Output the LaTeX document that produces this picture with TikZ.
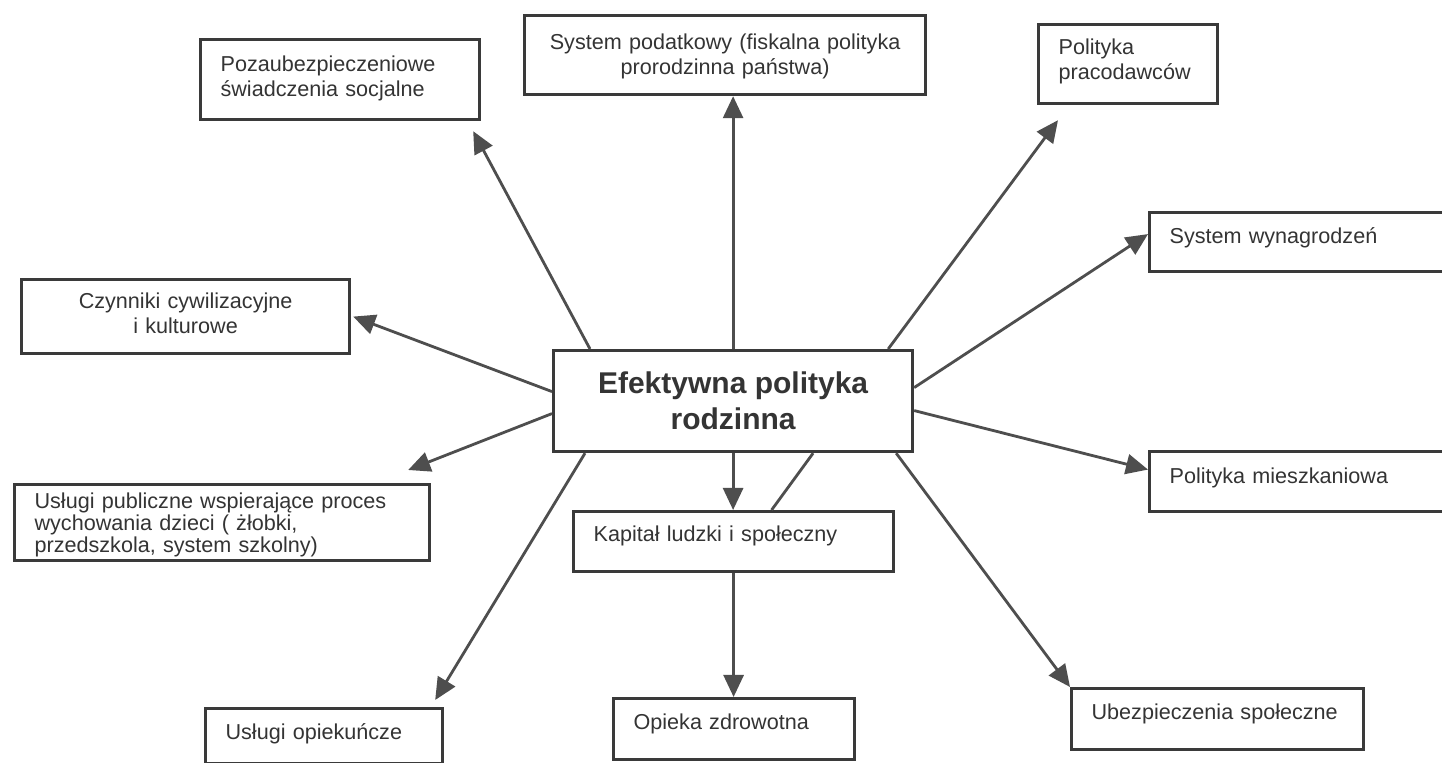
\documentclass[tikz,border=0pt]{standalone}
\usepackage{fontspec}
\setmainfont{Liberation Sans}
\usepackage{xcolor}
\usepackage{tikz}
\usetikzlibrary{arrows.meta}
\definecolor{ramka}{RGB}{58,58,58}
\definecolor{linia}{RGB}{78,78,78}
\definecolor{tekst}{RGB}{52,52,52}
\tikzset{
  pole/.style={draw=ramka,line width=1.6pt,anchor=north west,inner xsep=10pt,inner ysep=0pt,text=tekst,align=left,font=\fontsize{10.8}{12.5}\selectfont},
  strzalka/.style={draw=linia,line width=1.4pt,-{Triangle[length=11pt,width=10pt]}},
}

\begin{document}
\begin{tikzpicture}[x=0.5pt,y=-0.5pt]
\useasboundingbox (0,0) rectangle (1442,763);
\clip (0,0) rectangle (1442,763);
\fill[white] (0,0) rectangle (1442,763);
\node[draw=ramka,line width=1.6pt,anchor=north west,minimum width=179.5pt,minimum height=50.5pt,align=center,text=tekst,font=\fontsize{15}{18}\selectfont\bfseries] (rodzina) at (552,349)
{Efektywna polityka\\rodzinna};
\node[pole,text width=119.5pt,text height=16.2pt,text depth=23.8pt] (poza) at (199,38)
{Pozaubezpieczeniowe\\świadczenia socjalne};
\node[pole,align=center,text width=180.5pt,text height=17.2pt,text depth=22.3pt] (podatki) at (523,14)
{System podatkowy (fiskalna polityka\\prorodzinna państwa)};
\node[pole,text width=69.5pt,text height=15.2pt,text depth=24.3pt] (pracodawcy) at (1037,23)
{Polityka\\pracodawców};
\node[pole,text width=140pt,text height=15.7pt,text depth=13.8pt] (wynagrodzenia) at (1148,211)
{System wynagrodzeń};
\node[pole,align=center,text width=144pt,text height=14.7pt,text depth=22.3pt] (czynniki) at (20,278)
{Czynniki cywilizacyjne\\i kulturowe};
\node[pole,text width=140pt,text height=16.2pt,text depth=13.8pt] (mieszkania) at (1148,450)
{Polityka mieszkaniowa};
\node[pole,font=\fontsize{10.8}{11}\selectfont,text width=187.5pt,text height=12.2pt,text depth=25.8pt] (uslugi) at (13,483)
{Usługi publiczne wspierające proces\\wychowania dzieci ( żłobki,\\przedszkola, system szkolny)};
\node[pole,text width=140pt,text height=15.2pt,text depth=14.8pt] (kapital) at (572,510)
{Kapitał ludzki i społeczny};
\node[pole,text width=98.5pt,text height=15.7pt,text depth=11.8pt] (opieka) at (204,707)
{Usługi opiekuńcze};
\node[pole,text width=100.5pt,text height=15.7pt,text depth=14.8pt] (zdrowie) at (612,697)
{Opieka zdrowotna};
\node[pole,text width=126pt,text height=15.7pt,text depth=14.8pt] (ubezpieczenia) at (1070,687)
{Ubezpieczenia społeczne};
% strzalki od centrum
\draw[strzalka] (rodzina.north) -- (rodzina.north |- podatki.south);
\draw[strzalka] ([xshift=19pt]rodzina.north west) -- ([xshift=-4pt,yshift=-5pt]poza.south east);
\draw[strzalka] ([xshift=-13pt]rodzina.north east) -- ([xshift=10.5pt,yshift=-7.5pt]pracodawcy.south west);
\draw[strzalka] ([yshift=6.75pt]rodzina.east) -- ([yshift=4pt]wynagrodzenia.west);
\draw[strzalka] ([yshift=-4.75pt]rodzina.east) -- ([yshift=6pt]mieszkania.west);
\draw[strzalka] ([xshift=-9pt]rodzina.south east) -- (ubezpieczenia.north west);
\draw[strzalka] (rodzina.south) -- (rodzina.south |- kapital.north);
\draw[draw=linia,line width=1.4pt] ([xshift=40pt]rodzina.south) -- ([xshift=19pt]kapital.north);
\draw[strzalka] (kapital.south) -- (kapital.south |- zdrowie.north);
\draw[strzalka] ([xshift=16.5pt]rodzina.south west) -- ([xshift=-4.5pt,yshift=3.5pt]opieka.north east);
\draw[strzalka] ([yshift=-6.25pt]rodzina.west) -- ([xshift=-11.5pt,yshift=6.5pt]uslugi.north east);
\draw[strzalka] ([yshift=4.75pt]rodzina.west) -- ([xshift=1pt]czynniki.east);
\end{tikzpicture}
\end{document}
